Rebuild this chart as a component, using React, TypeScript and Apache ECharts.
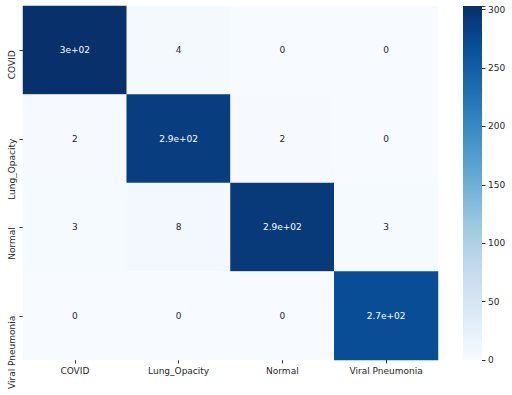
import React, { useEffect, useRef } from "react";
import * as echarts from "echarts";

const categories = ["COVID", "Lung_Opacity", "Normal", "Viral Pneumonia"];
// rows = true label, columns = predicted label
const rowCOVID = [303, 4, 0, 0];
const rowLung = [2, 287, 2, 0];
const rowNormal = [3, 8, 293, 3];
const rowViral = [0, 0, 0, 270];
const matrix = [rowCOVID, rowLung, rowNormal, rowViral];
const colorbarMax = 303;
const colorbarTicks = [0, 50, 100, 150, 200, 250, 300];
const blues = ["#f7fbff", "#deebf7", "#c6dbef", "#9ecae1", "#6baed6", "#4292c6", "#2171b5", "#08519c", "#08306b"];

function fmtG2(v: number): string {
  if (Math.abs(v) < 100) return String(Number(v.toPrecision(2)));
  const s = v.toExponential(1);
  const [m, e] = s.split("e");
  const mant = m.replace(/\.0$/, "");
  const sign = e[0] === "-" ? "-" : "+";
  const digits = e.replace(/^[+-]/, "").padStart(2, "0");
  return `${mant}e${sign}${digits}`;
}

export default function App() {
  const ref = useRef<HTMLDivElement>(null);
  useEffect(() => {
    if (!ref.current) return;
    const chart = echarts.init(ref.current, null, { renderer: "svg" });
    const data: any[] = [];
    matrix.forEach((row, r) => {
      row.forEach((v, c) => {
        data.push({
          value: [c, r, v],
          label: { color: v > colorbarMax / 2 ? "#ffffff" : "#262626" },
        });
      });
    });
    const font = "DejaVu Sans";
    chart.setOption({
      animation: false,
      backgroundColor: "#ffffff",
      textStyle: { fontFamily: font },
      grid: [
        { left: 23, top: 6, width: 415, height: 354 },
        { left: 463, top: 6, width: 19, height: 354 },
      ],
      xAxis: [
        {
          type: "category",
          gridIndex: 0,
          data: categories,
          position: "bottom",
          axisLine: { show: false },
          axisTick: { show: true, alignWithLabel: true, length: 3.5, lineStyle: { color: "#333" } },
          axisLabel: { interval: 0, color: "#262626", fontSize: 9, margin: 6, fontFamily: font },
          splitLine: { show: false },
        },
        {
          type: "category",
          gridIndex: 1,
          data: ["cb"],
          show: false,
        },
      ],
      yAxis: [
        {
          type: "category",
          gridIndex: 0,
          data: categories,
          inverse: true,
          axisLine: { show: false },
          axisTick: { show: true, alignWithLabel: true, length: 3.5, lineStyle: { color: "#333" } },
          axisLabel: {
            interval: 0,
            color: "#262626",
            fontSize: 9,
            rotate: 90,
            align: "right",
            verticalAlign: "bottom",
            margin: 7,
            fontFamily: font,
          },
          splitLine: { show: false },
        },
        {
          type: "value",
          gridIndex: 1,
          min: 0,
          max: colorbarMax,
          interval: 50,
          position: "right",
          axisLine: { show: false },
          axisTick: { show: true, length: 3.5, lineStyle: { color: "#333" } },
          axisLabel: {
            color: "#262626",
            fontSize: 9,
            margin: 6,
            fontFamily: font,
            formatter: (v: number) => (colorbarTicks.includes(v) ? String(v) : ""),
          },
          splitLine: { show: false },
        },
      ],
      visualMap: {
        show: false,
        type: "continuous",
        seriesIndex: 0,
        min: 0,
        max: colorbarMax,
        inRange: { color: blues },
      },
      series: [
        {
          type: "heatmap",
          xAxisIndex: 0,
          yAxisIndex: 0,
          data,
          label: {
            show: true,
            fontSize: 9,
            fontFamily: font,
            formatter: (p: any) => fmtG2(p.value[2]),
          },
          itemStyle: { borderWidth: 0 },
        },
        {
          type: "bar",
          xAxisIndex: 1,
          yAxisIndex: 1,
          data: [colorbarMax],
          barWidth: "100%",
          itemStyle: {
            color: new echarts.graphic.LinearGradient(
              0, 0, 0, 1,
              blues.slice().reverse().map((c, i, arr) => ({ offset: i / (arr.length - 1), color: c }))
            ),
          },
        },
      ],
    });
    return () => chart.dispose();
  }, []);
  return (
    <div
      ref={ref}
      style={{ position: "absolute", left: 0, top: 0, width: 512, height: 395 }}
    />
  );
}
